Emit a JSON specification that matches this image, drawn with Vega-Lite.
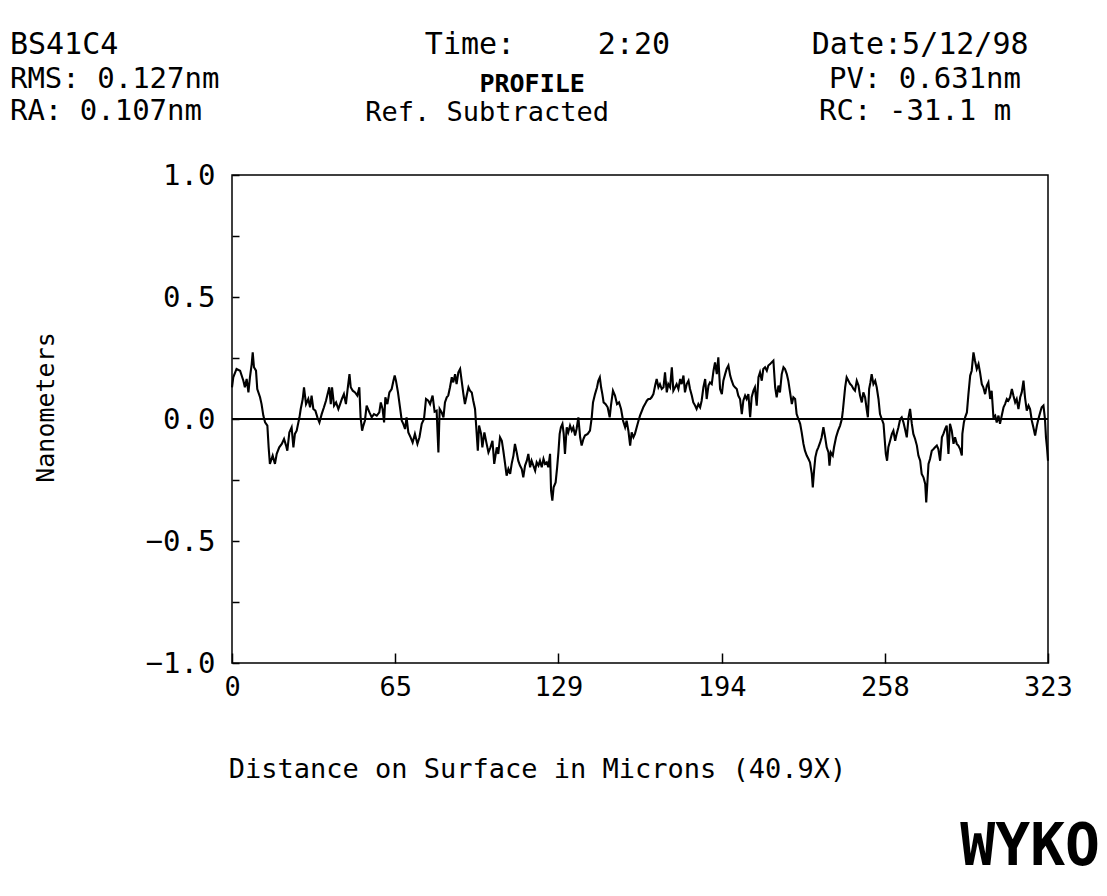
{
 "$schema": "https://vega.github.io/schema/vega-lite/v6.json",
 "width": 816,
 "height": 488,
 "autosize": {"type": "none"},
 "padding": {"left": 232, "top": 175, "right": 59, "bottom": 233},
 "background": "white",
 "config": {
  "view": {"stroke": "black", "strokeWidth": 1.5},
  "font": "DejaVu Sans Mono",
  "text": {"font": "DejaVu Sans Mono", "color": "black"}
 },
 "datasets": {
  "profile": [
   {"um":0,"nm":0.130},{"um":0.5,"nm":0.171},{"um":1.8,"nm":0.205},{"um":3.2,"nm":0.198},{"um":4.5,"nm":0.157},{"um":5.1,"nm":0.130},{"um":5.8,"nm":0.164},{"um":6.5,"nm":0.109},{"um":7.1,"nm":0.171},{"um":7.8,"nm":0.225},{"um":8.2,"nm":0.273},{"um":8.7,"nm":0.212},{"um":9.5,"nm":0.198},{"um":10.0,"nm":0.123},{"um":11.1,"nm":0.089},{"um":11.7,"nm":0.061},{"um":12.4,"nm":0.014},{"um":13.1,"nm":-0.014},{"um":14.0,"nm":-0.027},{"um":14.5,"nm":-0.116},{"um":15.0,"nm":-0.184},{"um":16.1,"nm":-0.150},{"um":17.0,"nm":-0.184},{"um":17.7,"nm":-0.143},{"um":18.7,"nm":-0.116},{"um":19.7,"nm":-0.102},{"um":20.6,"nm":-0.082},{"um":21.4,"nm":-0.109},{"um":21.9,"nm":-0.130},{"um":22.7,"nm":-0.055},{"um":23.6,"nm":-0.034},{"um":24.3,"nm":-0.116},{"um":24.9,"nm":-0.061},{"um":25.6,"nm":-0.048},{"um":26.7,"nm":0.007},{"um":27.2,"nm":0.041},{"um":28.0,"nm":0.082},{"um":28.5,"nm":0.130},{"um":29.3,"nm":0.061},{"um":30.2,"nm":0.082},{"um":30.9,"nm":0.048},{"um":31.5,"nm":0.096},{"um":32.2,"nm":0.041},{"um":33.0,"nm":0.034},{"um":33.8,"nm":0.007},{"um":34.6,"nm":-0.014},{"um":35.5,"nm":0.020},{"um":36.4,"nm":0.048},{"um":37.2,"nm":0.075},{"um":37.7,"nm":0.096},{"um":38.5,"nm":0.130},{"um":39.1,"nm":0.061},{"um":39.6,"nm":0.130},{"um":40.4,"nm":0.055},{"um":41.2,"nm":0.068},{"um":42.1,"nm":0.041},{"um":42.8,"nm":0.061},{"um":43.5,"nm":0.082},{"um":44.3,"nm":0.102},{"um":45.1,"nm":0.061},{"um":45.7,"nm":0.116},{"um":46.5,"nm":0.184},{"um":47.0,"nm":0.130},{"um":47.8,"nm":0.116},{"um":48.7,"nm":0.109},{"um":49.6,"nm":0.096},{"um":50.4,"nm":0.130},{"um":50.9,"nm":0.007},{"um":51.5,"nm":-0.048},{"um":52.0,"nm":-0.027},{"um":52.6,"nm":-0.007},{"um":53.3,"nm":0.055},{"um":54.4,"nm":0.027},{"um":55.3,"nm":0.007},{"um":56.2,"nm":0.020},{"um":57.3,"nm":0.014},{"um":58.3,"nm":0.027},{"um":58.9,"nm":0.068},{"um":59.6,"nm":0.041},{"um":60.2,"nm":-0.014},{"um":60.7,"nm":0.089},{"um":61.5,"nm":0.061},{"um":62.3,"nm":0.109},{"um":63.2,"nm":0.123},{"um":63.9,"nm":0.157},{"um":64.4,"nm":0.178},{"um":64.9,"nm":0.157},{"um":65.7,"nm":0.109},{"um":66.5,"nm":0.048},{"um":67.2,"nm":-0.007},{"um":67.8,"nm":-0.020},{"um":68.5,"nm":-0.041},{"um":69.1,"nm":0.007},{"um":69.8,"nm":-0.055},{"um":70.7,"nm":-0.075},{"um":71.5,"nm":-0.096},{"um":72.4,"nm":-0.061},{"um":73.4,"nm":-0.102},{"um":74.2,"nm":-0.075},{"um":75.1,"nm":-0.020},{"um":76.0,"nm":0.000},{"um":76.8,"nm":0.082},{"um":77.7,"nm":0.075},{"um":78.4,"nm":0.061},{"um":79.4,"nm":0.096},{"um":80.2,"nm":0.030},
   {"um":81.0,"nm":0.034},{"um":81.7,"nm":-0.137},{"um":82.2,"nm":0.041},{"um":83.0,"nm":0.027},{"um":83.7,"nm":0.007},{"um":84.3,"nm":0.068},{"um":85.0,"nm":0.089},{"um":85.6,"nm":0.096},{"um":86.3,"nm":0.130},{"um":87.0,"nm":0.171},{"um":87.6,"nm":0.150},{"um":88.3,"nm":0.184},{"um":88.9,"nm":0.143},{"um":89.6,"nm":0.191},{"um":90.3,"nm":0.205},{"um":90.9,"nm":0.157},{"um":91.6,"nm":0.102},{"um":92.2,"nm":0.061},{"um":92.9,"nm":0.096},{"um":93.6,"nm":0.130},{"um":94.2,"nm":0.116},{"um":94.9,"nm":0.109},{"um":95.5,"nm":0.075},{"um":96.2,"nm":0.041},{"um":96.6,"nm":-0.020},{"um":97.3,"nm":-0.130},{"um":97.8,"nm":-0.027},{"um":98.6,"nm":-0.061},{"um":99.1,"nm":-0.116},{"um":99.9,"nm":-0.055},{"um":100.8,"nm":-0.102},{"um":101.5,"nm":-0.137},{"um":102.3,"nm":-0.116},{"um":103.1,"nm":-0.089},{"um":103.8,"nm":-0.184},{"um":104.8,"nm":-0.116},{"um":105.4,"nm":-0.143},{"um":106.1,"nm":-0.075},{"um":106.8,"nm":-0.089},{"um":107.4,"nm":-0.130},{"um":108.1,"nm":-0.184},{"um":108.7,"nm":-0.232},{"um":109.4,"nm":-0.205},{"um":110.1,"nm":-0.225},{"um":110.7,"nm":-0.184},{"um":111.4,"nm":-0.150},{"um":112.0,"nm":-0.102},{"um":112.7,"nm":-0.137},{"um":113.3,"nm":-0.171},{"um":114.0,"nm":-0.191},{"um":114.7,"nm":-0.205},{"um":115.3,"nm":-0.239},{"um":116.0,"nm":-0.191},{"um":116.7,"nm":-0.171},{"um":117.3,"nm":-0.143},{"um":118.0,"nm":-0.198},{"um":118.6,"nm":-0.171},{"um":119.3,"nm":-0.191},{"um":120.0,"nm":-0.212},{"um":120.6,"nm":-0.178},{"um":121.3,"nm":-0.191},{"um":121.9,"nm":-0.171},{"um":122.6,"nm":-0.198},{"um":123.3,"nm":-0.164},{"um":123.9,"nm":-0.184},{"um":124.6,"nm":-0.178},{"um":125.2,"nm":-0.198},{"um":125.9,"nm":-0.143},{"um":126.3,"nm":-0.294},{"um":126.8,"nm":-0.335},{"um":127.3,"nm":-0.280},{"um":128.1,"nm":-0.260},{"um":128.7,"nm":-0.198},{"um":129.2,"nm":-0.137},{"um":129.7,"nm":-0.061},{"um":130.2,"nm":-0.034},{"um":130.8,"nm":-0.020},{"um":131.3,"nm":-0.061},{"um":131.8,"nm":-0.143},{"um":132.5,"nm":-0.034},{"um":133.1,"nm":-0.055},{"um":133.8,"nm":-0.027},{"um":134.5,"nm":-0.048},{"um":135.1,"nm":-0.034},{"um":135.8,"nm":-0.068},{"um":136.4,"nm":-0.041},{"um":137.1,"nm":0.007},{"um":137.8,"nm":-0.075},{"um":138.4,"nm":-0.109},{"um":139.1,"nm":-0.082},{"um":139.7,"nm":-0.068},{"um":140.8,"nm":-0.061},{"um":141.7,"nm":-0.048},{"um":142.4,"nm":0.007},{"um":142.9,"nm":0.068},{"um":143.7,"nm":0.102},{"um":144.5,"nm":0.130},{"um":145.0,"nm":0.157},{"um":145.6,"nm":0.171},{"um":146.1,"nm":0.130},{"um":146.6,"nm":0.102},{"um":147.1,"nm":0.068},{"um":147.9,"nm":0.061},{"um":148.7,"nm":0.048},{"um":149.5,"nm":0.007},{"um":150.0,"nm":0.055},{"um":150.8,"nm":0.116},{"um":151.6,"nm":0.096},{"um":152.4,"nm":0.061},{"um":153.2,"nm":0.068},{"um":154.0,"nm":0.041},{"um":154.8,"nm":-0.007},{"um":155.6,"nm":-0.034},{"um":156.2,"nm":-0.007},{"um":156.9,"nm":-0.048},{"um":157.6,"nm":-0.109},{"um":158.2,"nm":-0.055},{"um":158.9,"nm":-0.075},{"um":159.5,"nm":-0.061},{"um":160.2,"nm":-0.034},{"um":160.9,"nm":-0.007},{"um":161.5,"nm":0.014},
   {"um":162.8,"nm":0.048},{"um":163.5,"nm":0.061},{"um":164.2,"nm":0.075},{"um":164.8,"nm":0.082},{"um":165.5,"nm":0.082},{"um":166.1,"nm":0.089},{"um":166.8,"nm":0.102},{"um":167.5,"nm":0.137},{"um":168.1,"nm":0.164},{"um":168.8,"nm":0.130},{"um":169.4,"nm":0.143},{"um":170.1,"nm":0.123},{"um":170.8,"nm":0.130},{"um":171.4,"nm":0.191},{"um":172.1,"nm":0.109},{"um":172.7,"nm":0.143},{"um":173.4,"nm":0.130},{"um":174.1,"nm":0.212},{"um":174.7,"nm":0.116},{"um":175.4,"nm":0.130},{"um":176.0,"nm":0.143},{"um":176.7,"nm":0.123},{"um":177.4,"nm":0.164},{"um":178.0,"nm":0.143},{"um":178.7,"nm":0.178},{"um":179.3,"nm":0.109},{"um":180.0,"nm":0.143},{"um":180.7,"nm":0.157},{"um":181.3,"nm":0.123},{"um":182.0,"nm":0.096},{"um":182.6,"nm":0.068},{"um":183.3,"nm":0.055},{"um":183.9,"nm":0.041},{"um":184.6,"nm":0.061},{"um":185.3,"nm":0.048},{"um":185.9,"nm":0.075},{"um":186.6,"nm":0.130},{"um":187.3,"nm":0.164},{"um":187.9,"nm":0.082},{"um":188.6,"nm":0.137},{"um":189.2,"nm":0.150},{"um":189.9,"nm":0.143},{"um":190.6,"nm":0.198},{"um":191.2,"nm":0.232},{"um":191.9,"nm":0.184},{"um":192.5,"nm":0.253},{"um":193.2,"nm":0.123},{"um":193.9,"nm":0.102},{"um":194.5,"nm":0.157},{"um":195.2,"nm":0.184},{"um":195.8,"nm":0.205},{"um":196.5,"nm":0.219},{"um":197.2,"nm":0.178},{"um":197.8,"nm":0.157},{"um":198.5,"nm":0.137},{"um":199.1,"nm":0.130},{"um":199.8,"nm":0.123},{"um":200.4,"nm":0.096},{"um":201.1,"nm":0.082},{"um":201.8,"nm":0.020},{"um":202.4,"nm":0.075},{"um":203.1,"nm":0.096},{"um":203.7,"nm":0.082},{"um":204.4,"nm":0.102},{"um":205.1,"nm":0.007},{"um":205.7,"nm":0.089},{"um":206.4,"nm":0.116},{"um":207.0,"nm":0.130},{"um":207.7,"nm":0.055},{"um":208.4,"nm":0.171},{"um":209.0,"nm":0.191},{"um":209.7,"nm":0.157},{"um":210.3,"nm":0.205},{"um":211.0,"nm":0.212},{"um":211.7,"nm":0.198},{"um":212.3,"nm":0.219},{"um":213.0,"nm":0.225},{"um":213.6,"nm":0.232},{"um":214.3,"nm":0.239},{"um":215.0,"nm":0.130},{"um":215.6,"nm":0.089},{"um":216.3,"nm":0.137},{"um":216.9,"nm":0.109},{"um":217.6,"nm":0.184},{"um":218.3,"nm":0.212},{"um":218.9,"nm":0.205},{"um":219.6,"nm":0.184},{"um":220.2,"nm":0.157},{"um":220.9,"nm":0.109},{"um":221.6,"nm":0.061},{"um":222.2,"nm":0.089},{"um":222.9,"nm":0.082},{"um":223.5,"nm":0.020},{"um":224.2,"nm":0.000},{"um":224.9,"nm":-0.020},{"um":225.5,"nm":-0.055},{"um":226.2,"nm":-0.102},{"um":226.8,"nm":-0.130},{"um":227.5,"nm":-0.150},{"um":228.2,"nm":-0.164},{"um":228.8,"nm":-0.178},{"um":229.5,"nm":-0.225},{"um":229.9,"nm":-0.280},{"um":230.4,"nm":-0.212},{"um":230.9,"nm":-0.157},{"um":231.5,"nm":-0.130},{"um":232.1,"nm":-0.116},{"um":232.8,"nm":-0.096},{"um":233.4,"nm":-0.075},{"um":234.1,"nm":-0.034},{"um":234.8,"nm":-0.075},{"um":235.4,"nm":-0.116},{"um":236.1,"nm":-0.137},{"um":236.5,"nm":-0.191},{"um":237.0,"nm":-0.137},{"um":237.8,"nm":-0.150},{"um":238.3,"nm":-0.116},{"um":239.1,"nm":-0.075},{"um":239.9,"nm":-0.048},{"um":240.7,"nm":-0.027},{"um":241.4,"nm":0.000},{"um":241.8,"nm":0.034},
   {"um":242.7,"nm":0.130},{"um":243.3,"nm":0.171},{"um":244.0,"nm":0.157},{"um":244.7,"nm":0.143},{"um":245.3,"nm":0.137},{"um":246.0,"nm":0.123},{"um":246.6,"nm":0.116},{"um":247.3,"nm":0.157},{"um":248.0,"nm":0.137},{"um":248.6,"nm":0.096},{"um":249.3,"nm":0.068},{"um":249.9,"nm":0.109},{"um":250.6,"nm":0.089},{"um":251.3,"nm":0.034},{"um":251.7,"nm":0.007},{"um":252.2,"nm":0.123},{"um":252.7,"nm":0.150},{"um":253.2,"nm":0.184},{"um":253.9,"nm":0.143},{"um":254.6,"nm":0.157},{"um":255.2,"nm":0.130},{"um":255.9,"nm":0.082},{"um":256.5,"nm":0.020},{"um":257.2,"nm":0.000},{"um":257.9,"nm":-0.020},{"um":258.3,"nm":-0.075},{"um":258.8,"nm":-0.143},{"um":259.3,"nm":-0.171},{"um":259.8,"nm":-0.116},{"um":260.5,"nm":-0.089},{"um":261.2,"nm":-0.061},{"um":261.8,"nm":-0.048},{"um":262.5,"nm":-0.089},{"um":263.1,"nm":-0.061},{"um":263.8,"nm":-0.034},{"um":264.5,"nm":0.000},{"um":265.1,"nm":0.007},{"um":265.8,"nm":-0.014},{"um":266.4,"nm":-0.041},{"um":267.1,"nm":-0.075},{"um":267.8,"nm":0.007},{"um":268.4,"nm":0.041},{"um":269.1,"nm":-0.020},{"um":269.7,"nm":-0.061},{"um":270.4,"nm":-0.082},{"um":271.1,"nm":-0.109},{"um":271.7,"nm":-0.150},{"um":272.4,"nm":-0.171},{"um":273.0,"nm":-0.225},{"um":273.7,"nm":-0.239},{"um":274.4,"nm":-0.266},{"um":274.8,"nm":-0.342},{"um":275.3,"nm":-0.253},{"um":275.7,"nm":-0.184},{"um":276.3,"nm":-0.164},{"um":277.0,"nm":-0.130},{"um":277.7,"nm":-0.123},{"um":278.3,"nm":-0.116},{"um":279.0,"nm":-0.109},{"um":279.6,"nm":-0.123},{"um":280.3,"nm":-0.171},{"um":281.0,"nm":-0.075},{"um":281.6,"nm":-0.061},{"um":282.3,"nm":-0.041},{"um":282.9,"nm":-0.027},{"um":283.6,"nm":-0.143},{"um":284.2,"nm":-0.020},{"um":284.9,"nm":-0.048},{"um":285.6,"nm":-0.102},{"um":286.2,"nm":-0.075},{"um":286.9,"nm":-0.102},{"um":287.5,"nm":-0.109},{"um":288.2,"nm":-0.123},{"um":288.9,"nm":-0.150},{"um":289.1,"nm":-0.061},{"um":289.7,"nm":-0.014},{"um":290.2,"nm":0.007},{"um":290.9,"nm":0.027},{"um":291.5,"nm":0.102},{"um":292.2,"nm":0.178},{"um":292.8,"nm":0.198},{"um":293.5,"nm":0.273},{"um":294.1,"nm":0.239},{"um":294.8,"nm":0.205},{"um":295.5,"nm":0.225},{"um":296.1,"nm":0.191},{"um":296.8,"nm":0.143},{"um":297.4,"nm":0.130},{"um":298.1,"nm":0.102},{"um":298.8,"nm":0.137},{"um":299.4,"nm":0.150},{"um":300.1,"nm":0.082},{"um":300.7,"nm":0.116},{"um":301.4,"nm":0.007},{"um":302.1,"nm":0.014},{"um":302.7,"nm":-0.014},{"um":303.4,"nm":0.014},{"um":304.0,"nm":-0.020},{"um":304.7,"nm":0.014},{"um":305.4,"nm":0.048},{"um":306.0,"nm":0.061},{"um":306.7,"nm":0.082},{"um":307.3,"nm":0.075},{"um":308.0,"nm":0.089},{"um":308.7,"nm":0.123},{"um":309.3,"nm":0.096},{"um":310.0,"nm":0.068},{"um":310.6,"nm":0.082},{"um":311.3,"nm":0.041},{"um":312.0,"nm":0.089},{"um":312.6,"nm":0.109},{"um":313.3,"nm":0.157},{"um":313.9,"nm":0.089},{"um":314.6,"nm":0.034},{"um":315.3,"nm":0.055},{"um":315.9,"nm":0.041},{"um":316.6,"nm":-0.007},{"um":317.2,"nm":-0.034},{"um":317.9,"nm":-0.068},{"um":318.6,"nm":-0.027},{"um":319.2,"nm":0.000},{"um":319.9,"nm":0.027},{"um":320.5,"nm":0.048},{"um":321.2,"nm":0.055},{"um":321.8,"nm":0.000},{"um":322.2,"nm":-0.075},{"um":322.6,"nm":-0.116},{"um":323.0,"nm":-0.171}
  ]
 },
 "layer": [
  {
   "data": {"name": "profile"},
   "mark": {"type": "line", "color": "black", "strokeWidth": 2.1},
   "encoding": {
    "x": {
     "field": "um", "type": "quantitative",
     "scale": {"domain": [0, 323], "nice": false, "zero": false},
     "axis": {
      "title": "Distance on Surface in Microns (40.9X)",
      "values": [0, 64.6, 129.2, 193.8, 258.4, 323],
      "format": ".0f",
      "domain": false, "grid": false,
      "tickSize": -10, "tickWidth": 1.5, "tickColor": "black",
      "labelFont": "DejaVu Sans Mono", "labelFontSize": 27, "labelColor": "black",
      "labelPadding": 21, "labelFlush": false, "labelOverlap": false,
      "titleFont": "DejaVu Sans Mono", "titleFontSize": 27, "titleFontWeight": "normal", "titleColor": "black",
      "titleX": 305, "titleY": 106, "titleAlign": "center", "titleBaseline": "middle"
     }
    },
    "y": {
     "field": "nm", "type": "quantitative",
     "scale": {"domain": [-1, 1], "nice": false},
     "axis": {
      "title": "Nanometers",
      "values": [-1, -0.75, -0.5, -0.25, 0, 0.25, 0.5, 0.75, 1],
      "labelExpr": "abs(datum.value * 2 - round(datum.value * 2)) < 0.01 ? format(datum.value, '.1f') : ''",
      "domain": false, "grid": false,
      "tickSize": -7, "tickWidth": 1.5, "tickColor": "black",
      "labelFont": "DejaVu Sans Mono", "labelFontSize": 29, "labelColor": "black",
      "labelPadding": 24, "labelOverlap": false, "labelFlush": false,
      "titleFont": "DejaVu Sans Mono", "titleFontSize": 25, "titleFontWeight": "normal", "titleColor": "black",
      "titleX": -187, "titleY": 232, "titleAngle": 270, "titleAlign": "center", "titleBaseline": "middle"
     }
    }
   }
  },
  {
   "data": {"values": [{}]},
   "mark": {"type": "rule", "color": "black", "strokeWidth": 2},
   "encoding": {"y": {"datum": 0, "type": "quantitative"}}
  },
  {
   "data": {"values": [{}]},
   "mark": {"type": "text", "align": "left", "baseline": "middle", "fontSize": 30},
   "encoding": {"x": {"datum": -87.9, "type": "quantitative"}, "y": {"datum": 1.533, "type": "quantitative"}, "text": {"value": "BS41C4"}}
  },
  {
   "data": {"values": [{}]},
   "mark": {"type": "text", "align": "left", "baseline": "middle", "fontSize": 29},
   "encoding": {"x": {"datum": -87.9, "type": "quantitative"}, "y": {"datum": 1.393, "type": "quantitative"}, "text": {"value": "RMS: 0.127nm"}}
  },
  {
   "data": {"values": [{}]},
   "mark": {"type": "text", "align": "left", "baseline": "middle", "fontSize": 29},
   "encoding": {"x": {"datum": -87.9, "type": "quantitative"}, "y": {"datum": 1.262, "type": "quantitative"}, "text": {"value": "RA:  0.107nm"}}
  },
  {
   "data": {"values": [{}]},
   "mark": {"type": "text", "align": "center", "baseline": "middle", "fontSize": 30},
   "encoding": {"x": {"datum": 94.2, "type": "quantitative"}, "y": {"datum": 1.533, "type": "quantitative"}, "text": {"value": "Time:"}}
  },
  {
   "data": {"values": [{}]},
   "mark": {"type": "text", "align": "center", "baseline": "middle", "fontSize": 30},
   "encoding": {"x": {"datum": 159.1, "type": "quantitative"}, "y": {"datum": 1.533, "type": "quantitative"}, "text": {"value": "2:20"}}
  },
  {
   "data": {"values": [{}]},
   "mark": {"type": "text", "align": "center", "baseline": "middle", "fontSize": 30},
   "encoding": {"x": {"datum": 272.4, "type": "quantitative"}, "y": {"datum": 1.533, "type": "quantitative"}, "text": {"value": "Date:5/12/98"}}
  },
  {
   "data": {"values": [{}]},
   "mark": {"type": "text", "align": "center", "baseline": "middle", "fontSize": 29},
   "encoding": {"x": {"datum": 274.3, "type": "quantitative"}, "y": {"datum": 1.393, "type": "quantitative"}, "text": {"value": "PV: 0.631nm"}}
  },
  {
   "data": {"values": [{}]},
   "mark": {"type": "text", "align": "center", "baseline": "middle", "fontSize": 29},
   "encoding": {"x": {"datum": 270.4, "type": "quantitative"}, "y": {"datum": 1.262, "type": "quantitative"}, "text": {"value": "RC: -31.1 m"}}
  },
  {
   "data": {"values": [{}]},
   "mark": {"type": "text", "align": "center", "baseline": "middle", "fontSize": 25, "fontWeight": "bold"},
   "encoding": {"x": {"datum": 118.8, "type": "quantitative"}, "y": {"datum": 1.372, "type": "quantitative"}, "text": {"value": "PROFILE"}}
  },
  {
   "data": {"values": [{}]},
   "mark": {"type": "text", "align": "center", "baseline": "middle", "fontSize": 27},
   "encoding": {"x": {"datum": 101.0, "type": "quantitative"}, "y": {"datum": 1.255, "type": "quantitative"}, "text": {"value": "Ref. Subtracted"}}
  },
  {
   "data": {"values": [{}]},
   "mark": {"type": "text", "align": "right", "baseline": "middle", "fontSize": 58, "fontWeight": "bold"},
   "encoding": {"x": {"datum": 343.6, "type": "quantitative"}, "y": {"datum": -1.758, "type": "quantitative"}, "text": {"value": "WYKO"}}
  }
 ]
}
